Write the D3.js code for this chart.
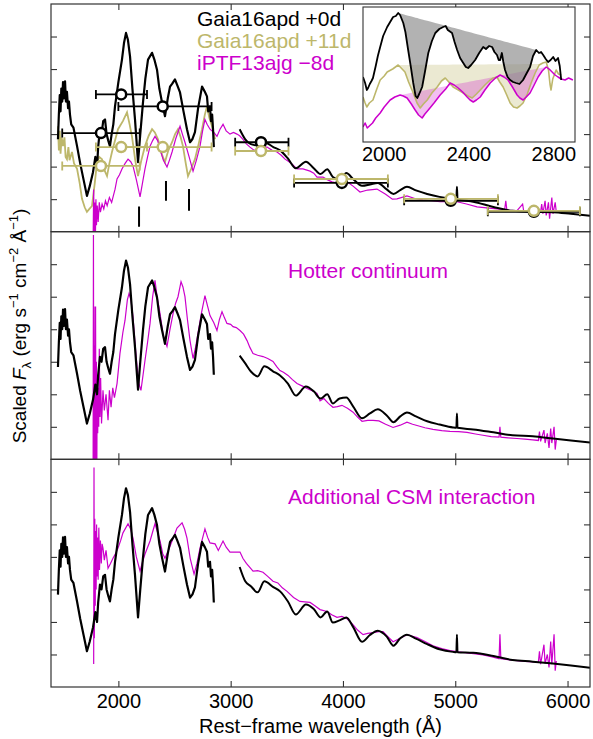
<!DOCTYPE html>
<html>
<head>
<meta charset="utf-8">
<script src="https://cdn.jsdelivr.net/npm/d3@7"></script>
<style>
  body { margin: 0; background: #fff; }
  svg { font-family: "Liberation Sans", Arial, sans-serif; }
</style>
</head>
<body>
<div id="chart"></div>
<script>
// ---- data (flux in arbitrary scaled units, wavelength in Angstrom) ----

// Gaia16apd +0d, UV part (same in all three panels)
var blackUV = [[1462,2.84],[1470,3.6],[1478,4.2],[1485,3.7],[1492,4.4],[1500,4.0],[1507,4.6],[1515,4.1],[1525,4.62],[1533,4.0],[1542,4.3],[1552,3.8],[1560,4.0],[1569,3.6],[1580,3.3],[1600,3.2],[1632,2.63],[1660,2.1],[1690,1.6],[1720,1.10],[1745,1.4],[1774,1.83],[1795,2.3],[1810,2.0],[1820,2.6],[1836,3.15],[1850,3.0],[1865,3.4],[1881,3.45],[1895,3.0],[1910,2.8],[1925,2.63],[1940,3.0],[1955,3.3],[1970,3.85],[2000,4.6],[2032,5.29],[2050,5.8],[2068,6.11],[2085,5.9],[2104,5.38],[2125,4.4],[2148,3.45],[2175,2.14],[2195,3.0],[2219,3.97],[2240,4.7],[2264,5.29],[2300,5.50],[2320,5.3],[2344,4.98],[2365,4.4],[2389,3.97],[2415,3.55],[2440,4.1],[2460,4.46],[2480,4.55],[2504,4.68],[2525,4.5],[2549,4.28],[2580,3.7],[2611,3.15],[2638,2.75],[2660,2.85],[2682,3.06],[2710,3.8],[2745,4.46],[2770,4.3],[2789,4.16],[2800,3.7],[2816,3.85],[2825,3.4],[2835,3.6],[2843,3.15],[2850,2.6]];

// Gaia16apd +0d, optical part (scaled differently per panel)
var optWave   = [3080,3130,3180,3240,3300,3380,3440,3510,3580,3670,3740,3800,3860,3910,3970,4030,4090,4170,4240,4310,4390,4450,4510,4570,4650,4750,4860,4980,5010,5015,5020,5160,5340,5510,5690,5870,6030,6200];
var blackOpt1 = [3.15,2.84,2.69,2.65,2.75,2.60,2.50,2.25,1.95,2.15,1.95,1.77,1.92,1.68,1.60,1.80,1.62,1.41,1.45,1.50,1.30,1.16,1.28,1.38,1.27,1.16,1.07,1.01,1.00,1.38,1.00,0.92,0.76,0.64,0.61,0.60,0.55,0.49];
var blackOpt2 = [3.19,2.95,2.70,2.55,2.86,2.70,2.58,2.33,1.96,2.24,2.09,1.87,2.00,1.72,1.87,1.90,1.63,1.26,1.41,1.54,1.35,1.14,1.32,1.44,1.32,1.17,1.07,0.98,0.97,1.41,0.97,0.92,0.83,0.74,0.71,0.64,0.58,0.52];
var blackOpt3 = [3.69,3.25,3.10,2.91,3.25,3.07,2.94,2.63,2.23,2.54,2.40,2.14,2.32,1.98,2.05,2.14,1.85,1.39,1.60,1.73,1.55,1.27,1.50,1.61,1.49,1.32,1.16,1.08,1.07,1.61,1.07,1.05,0.95,0.83,0.78,0.72,0.66,0.59];

// Gaia16apd +11d (top panel only)
var olive = [[1462,3.24],[1470,2.5],[1478,3.1],[1485,2.4],[1495,2.9],[1507,2.63],[1520,2.9],[1530,2.3],[1542,2.23],[1555,2.6],[1565,2.2],[1587,2.45],[1605,2.1],[1632,1.93],[1655,1.5],[1676,1.01],[1700,0.75],[1720,0.61],[1742,0.7],[1765,0.79],[1790,1.5],[1810,2.14],[1830,2.3],[1854,2.23],[1875,1.9],[1899,1.71],[1920,2.1],[1943,2.45],[1970,2.8],[1997,3.15],[2040,3.4],[2077,3.67],[2100,3.3],[2121,2.93],[2150,2.2],[2175,1.71],[2205,2.2],[2237,2.63],[2270,2.95],[2300,3.15],[2325,3.05],[2353,2.84],[2385,2.4],[2415,2.14],[2445,2.5],[2478,2.75],[2505,3.0],[2531,3.15],[2555,2.9],[2575,2.63],[2600,2.1],[2620,1.71],[2650,1.95],[2682,2.23],[2715,2.7],[2745,3.15],[2770,3.6],[2789,3.85],[2810,3.5],[2834,3.24],[2850,3.0],[2861,2.84]];

// iPTF13ajg -8d, one version per panel
var magenta1 = [[1775,-0.3],[1780,1.3],[1785,-0.2],[1790,0.9],[1795,-0.3],[1800,1.0],[1805,0.2],[1812,0.8],[1820,0.3],[1830,0.9],[1840,0.6],[1855,0.85],[1870,0.7],[1885,0.95],[1900,0.8],[1920,1.05],[1940,0.9],[1955,1.1],[1970,1.3],[1988,1.62],[2010,1.75],[2032,1.93],[2060,2.1],[2086,2.23],[2110,2.15],[2130,2.02],[2160,1.6],[2193,1.07],[2215,1.5],[2237,1.93],[2260,2.3],[2282,2.63],[2305,2.8],[2326,2.93],[2350,2.8],[2371,2.54],[2400,2.2],[2433,1.99],[2455,2.2],[2478,2.45],[2510,2.85],[2549,3.24],[2570,3.0],[2593,2.75],[2630,2.3],[2665,1.86],[2695,2.2],[2727,2.63],[2750,3.1],[2771,3.45],[2790,3.3],[2816,3.15],[2850,3.05],[2878,2.93],[2905,3.15],[2932,3.30],[2960,3.1],[2994,3.0],[3025,3.05],[3056,3.0],[3080,2.95],[3110,2.84],[3140,2.7],[3172,2.60],[3210,2.5],[3243,2.54],[3280,2.6],[3324,2.60],[3370,2.5],[3413,2.45],[3450,2.35],[3484,2.23],[3520,2.15],[3546,2.08],[3591,1.93],[3644,1.93],[3707,1.86],[3740,1.8],[3769,1.68],[3822,1.68],[3860,1.6],[3902,1.53],[3974,1.47],[4030,1.55],[4090,1.4],[4152,1.22],[4220,1.28],[4303,1.31],[4380,1.15],[4440,1.0],[4481,1.01],[4570,1.10],[4640,1.02],[4713,0.98],[4790,0.95],[4864,0.92],[4940,0.93],[5016,0.92],[5100,0.85],[5194,0.76],[5280,0.73],[5372,0.70],[5440,0.68],[5450,0.95],[5460,0.66],[5550,0.65],[5600,0.85],[5610,0.62],[5700,0.62],[5760,0.60],[5770,0.85],[5780,0.55],[5800,0.95],[5810,0.5],[5830,0.9],[5840,0.4],[5860,1.05],[5870,0.55],[5890,0.9],[5900,0.6]];

var magenta2 = [[1775,-0.3],[1778,6.9],[1781,-0.3],[1784,4.7],[1787,-0.3],[1790,3.5],[1793,-0.3],[1797,4.7],[1800,-0.3],[1804,3.0],[1808,-0.3],[1812,2.6],[1816,0.8],[1820,2.2],[1825,1.0],[1830,3.4],[1836,1.3],[1842,2.5],[1850,1.1],[1863,2.12],[1875,1.5],[1890,2.0],[1908,1.20],[1920,2.12],[1935,1.6],[1950,2.2],[1965,1.9],[1988,2.33],[2014,3.25],[2040,3.9],[2059,4.27],[2080,4.9],[2095,5.10],[2112,4.9],[2130,4.39],[2150,3.5],[2166,2.86],[2185,2.3],[2201,2.12],[2220,2.6],[2237,3.04],[2260,3.6],[2282,4.18],[2305,5.0],[2326,5.50],[2345,5.0],[2371,4.48],[2400,3.8],[2433,3.47],[2460,4.0],[2487,4.48],[2510,4.8],[2531,5.00],[2558,5.46],[2575,5.3],[2593,5.00],[2615,4.3],[2638,3.65],[2665,3.10],[2685,3.4],[2709,3.87],[2740,4.5],[2771,5.03],[2795,4.7],[2816,4.42],[2850,4.2],[2878,3.96],[2900,4.3],[2923,4.54],[2945,4.35],[2967,4.18],[3000,4.15],[3021,4.08],[3050,4.05],[3083,3.96],[3115,3.85],[3146,3.65],[3170,3.45],[3199,3.25],[3240,3.2],[3288,3.16],[3330,3.1],[3377,3.01],[3410,2.85],[3439,2.73],[3470,2.68],[3511,2.58],[3550,2.45],[3591,2.33],[3640,2.25],[3680,2.18],[3720,2.12],[3769,2.03],[3796,1.80],[3830,1.87],[3870,1.72],[3911,1.60],[3950,1.62],[3991,1.66],[4040,1.57],[4090,1.45],[4130,1.3],[4170,1.17],[4220,1.2],[4268,1.20],[4320,1.18],[4380,1.08],[4446,0.98],[4510,1.05],[4570,1.14],[4620,1.08],[4660,1.04],[4730,0.97],[4802,0.92],[4880,0.88],[4953,0.86],[5030,0.85],[5105,0.83],[5180,0.78],[5247,0.74],[5320,0.70],[5390,0.68],[5398,1.0],[5406,0.68],[5470,0.66],[5550,0.64],[5620,0.62],[5690,0.6],[5740,0.58],[5750,0.85],[5760,0.55],[5790,0.9],[5800,0.5],[5820,0.8],[5835,0.35],[5850,0.95],[5860,0.5],[5880,1.0],[5890,0.3],[5900,0.6]];

var magenta3 = [[1780,0.71],[1783,6.75],[1786,1.5],[1790,5.17],[1794,2.5],[1798,4.8],[1802,3.0],[1806,5.0],[1810,3.4],[1815,4.6],[1820,3.3],[1826,4.9],[1832,3.6],[1840,4.5],[1848,3.8],[1855,4.4],[1863,4.27],[1875,3.9],[1890,4.2],[1908,3.65],[1930,3.8],[1952,3.96],[1975,4.1],[1997,4.27],[2020,4.5],[2041,4.74],[2086,5.02],[2110,4.85],[2130,4.58],[2160,4.0],[2193,3.56],[2215,3.85],[2237,4.09],[2282,4.49],[2326,5.02],[2350,4.75],[2371,4.49],[2395,4.1],[2415,3.96],[2445,4.2],[2478,4.49],[2522,4.89],[2567,5.05],[2590,4.85],[2611,4.58],[2640,3.95],[2674,3.47],[2700,3.8],[2727,4.27],[2771,4.86],[2795,4.6],[2816,4.43],[2861,4.40],[2890,4.2],[2932,4.49],[2960,4.3],[2994,4.15],[3040,4.15],[3083,4.15],[3110,3.95],[3140,3.8],[3199,3.56],[3240,3.58],[3288,3.53],[3330,3.4],[3377,3.25],[3420,3.2],[3460,3.05],[3502,2.94],[3560,2.75],[3617,2.63],[3660,2.62],[3707,2.60],[3750,2.5],[3796,2.38],[3858,2.32],[3900,2.22],[3947,2.14],[3990,2.17],[4036,2.1],[4089,1.92],[4130,1.75],[4179,1.61],[4220,1.65],[4268,1.67],[4320,1.7],[4357,1.70],[4400,1.55],[4446,1.39],[4510,1.5],[4570,1.61],[4620,1.56],[4660,1.52],[4730,1.4],[4802,1.27],[4880,1.18],[4953,1.12],[5030,1.08],[5105,1.05],[5180,1.02],[5247,0.99],[5320,0.93],[5390,0.87],[5398,1.62],[5406,0.87],[5470,0.84],[5550,0.81],[5620,0.79],[5693,0.77],[5740,0.76],[5750,1.1],[5760,0.7],[5790,1.3],[5800,0.72],[5820,1.0],[5835,0.6],[5850,1.4],[5860,0.7],[5880,1.62],[5890,0.5],[5900,0.8]];

// photometry (top panel): central wavelength, band edges, flux
var photWave  = [1845, 2025, 2395, 3270, 3990, 4960, 5700];
var photLo    = [1500, 1800, 2000, 3040, 3565, 4545, 5290];
var photHi    = [2190, 2255, 2830, 3515, 4400, 5380, 6110];
var photBlack = [3.03, 4.22, 3.85, 2.75, 1.50, 0.95, 0.61];
var photOlive = [2.02, 2.60, 2.60, 2.48, 1.62, 1.01, 0.64];

// absorption line markers (top panel)
var markWave = [2184, 2424, 2629];
var markTop  = [0.77, 1.56, 1.31];
var markBot  = [0.15, 0.95, 0.64];

// inset spectra and pseudo-continua
var insetBlack = [[1900,6.5],[1910,5.9],[1918,5.2],[1924,5.4],[1932,5.8],[1940,6.1],[1947,6.4],[1960,7.6],[1970,8.6],[1981,9.5],[1995,10.6],[2014,11.5],[2028,12.0],[2042,12.5],[2055,12.6],[2066,12.9],[2075,12.7],[2090,11.9],[2100,11.0],[2113,9.2],[2125,7.6],[2137,5.9],[2148,4.6],[2156,4.4],[2165,4.8],[2179,5.5],[2192,7.0],[2208,8.9],[2225,10.1],[2241,10.9],[2260,11.3],[2278,11.5],[2290,11.6],[2300,11.2],[2320,10.9],[2332,10.0],[2344,9.2],[2358,8.4],[2373,7.9],[2385,7.5],[2396,7.4],[2410,7.7],[2429,8.2],[2448,8.9],[2467,9.5],[2480,9.3],[2495,9.6],[2509,9.5],[2520,9.0],[2532,8.7],[2540,8.2],[2547,8.2],[2555,8.9],[2562,8.0],[2570,7.2],[2582,6.5],[2594,6.2],[2608,6.0],[2622,5.9],[2638,5.8],[2655,6.2],[2670,6.8],[2688,7.5],[2702,8.6],[2717,9.2],[2730,8.9],[2740,9.0],[2750,8.7],[2762,8.3],[2773,8.0],[2785,8.2],[2797,8.5],[2808,8.1],[2820,8.4],[2828,7.6],[2835,6.2]];
var insetOlive = [[1900,4.5],[1910,3.9],[1918,3.5],[1930,3.9],[1947,4.2],[1965,5.3],[1981,6.2],[2000,6.6],[2014,7.0],[2040,7.3],[2066,7.7],[2080,7.4],[2098,7.0],[2115,6.0],[2137,4.9],[2155,3.9],[2170,3.4],[2185,3.8],[2203,4.2],[2225,4.9],[2250,5.5],[2270,6.1],[2288,6.4],[2305,6.0],[2325,5.5],[2350,5.2],[2373,4.9],[2395,4.6],[2415,4.4],[2435,4.8],[2453,5.2],[2475,5.7],[2500,6.2],[2515,6.4],[2532,6.5],[2545,6.0],[2561,5.5],[2578,4.7],[2594,3.9],[2610,3.5],[2627,3.4],[2640,3.6],[2655,3.9],[2675,4.8],[2693,5.9],[2712,6.9],[2731,7.7],[2748,7.9],[2764,8.0],[2775,7.2],[2782,5.8],[2787,5.2],[2795,6.3],[2811,7.2],[2822,6.8],[2835,6.7]];
var insetMag = [[1900,1.5],[1910,1.9],[1920,1.4],[1930,1.6],[1945,1.9],[1960,2.4],[1981,2.9],[2000,3.5],[2028,4.2],[2050,4.5],[2075,4.7],[2090,4.6],[2108,4.4],[2128,3.8],[2146,3.2],[2162,2.7],[2179,2.4],[2192,2.8],[2208,3.2],[2235,3.9],[2264,4.7],[2290,5.3],[2311,5.9],[2330,5.7],[2349,5.4],[2370,5.0],[2391,4.5],[2405,4.2],[2420,4.0],[2435,4.2],[2453,4.5],[2475,5.2],[2500,5.9],[2525,6.4],[2547,6.7],[2565,6.5],[2584,6.2],[2605,5.5],[2627,4.7],[2640,4.4],[2655,4.2],[2670,4.5],[2688,4.9],[2705,5.6],[2726,6.5],[2745,7.1],[2764,7.5],[2778,7.3],[2792,7.0],[2806,6.7],[2820,6.5],[2835,6.3],[2853,6.2],[2870,6.4],[2890,6.2]];
var blackCont = [[2066,12.9],[2717,9.2]];
var oliveCont = [[2066,7.7],[2731,7.8]];
var magCont   = [[2075,4.7],[2764,7.5]];

var xTicks = [2000, 3000, 4000, 5000, 6000];
var yTicks = [1, 2, 3, 4, 5, 6];
var insetTicks = [2000, 2400, 2800];
var legendNames = ["Gaia16apd +0d", "Gaia16apd +11d", "iPTF13ajg \u22128d"];
var panelNotes = ["", "Hotter continuum", "Additional CSM interaction"];

var BLACK = "#000", OLIVE = "#bdb76b", MAG = "#cc00cc", FRAME = "#333";

// ---- layout ----
var margin = {top: 4, right: 3, bottom: 52, left: 51},
    width = 593 - margin.left - margin.right,
    height = 739 - margin.top - margin.bottom;
var panelH = height / 3;

var svg = d3.select("#chart")
  .append("svg")
    .attr("width", 593)
    .attr("height", 739)
  .append("g")
    .attr("transform", "translate(" + margin.left + "," + margin.top + ")");

var x = d3.scaleLinear().domain([1400, 6200]).range([0, width]);
var y = d3.scaleLinear().domain([0, 7]).range([panelH, 0]);

var line = d3.line().x(function(d) { return x(d[0]); }).y(function(d) { return y(d[1]); });
var smooth = d3.line().curve(d3.curveMonotoneX)
  .x(function(d) { return x(d[0]); }).y(function(d) { return y(d[1]); });

svg.append("defs").append("clipPath").attr("id", "clip")
  .append("rect").attr("width", width).attr("height", panelH);

var mags = [magenta1, magenta2, magenta3];
var opts = [blackOpt1, blackOpt2, blackOpt3];

for (var i = 0; i < 3; i++) {
  var p = svg.append("g").attr("transform", "translate(0," + (i * panelH) + ")");

  // inward ticks on all four sides
  p.append("g").attr("class", "ax").call(d3.axisLeft(y).tickValues(yTicks).tickSize(-6).tickFormat(""));
  p.append("g").attr("class", "ax").attr("transform", "translate(" + width + ",0)")
    .call(d3.axisRight(y).tickValues(yTicks).tickSize(-6).tickFormat(""));
  p.append("g").attr("class", "ax").call(d3.axisTop(x).tickValues(xTicks).tickSize(-6).tickFormat(""));
  var bx = p.append("g").attr("class", "ax").attr("transform", "translate(0," + panelH + ")")
    .call(d3.axisBottom(x).tickValues(xTicks).tickSize(-6).tickPadding(7)
      .tickFormat(i == 2 ? d3.format("d") : ""));

  var plot = p.append("g").attr("clip-path", "url(#clip)");

  if (i == 0) {
    plot.append("path").datum(olive).attr("d", line)
      .attr("fill", "none").attr("stroke", OLIVE).attr("stroke-width", 1.8);
  }
  plot.append("path").datum(mags[i]).attr("d", line)
    .attr("fill", "none").attr("stroke", MAG).attr("stroke-width", 1.2);
  plot.append("path").datum(blackUV).attr("d", line)
    .attr("fill", "none").attr("stroke", BLACK).attr("stroke-width", 2.2)
    .attr("stroke-linejoin", "round");
  plot.append("path").datum(d3.zip(optWave, opts[i])).attr("d", smooth)
    .attr("fill", "none").attr("stroke", BLACK).attr("stroke-width", 2)
    .attr("stroke-linejoin", "round");

  if (i == 0) {
    // line markers
    plot.selectAll(".mark").data(markWave).enter().append("line")
      .attr("x1", function(d) { return x(d); }).attr("x2", function(d) { return x(d); })
      .attr("y1", function(d, k) { return y(markTop[k]); })
      .attr("y2", function(d, k) { return y(markBot[k]); })
      .attr("stroke", BLACK).attr("stroke-width", 2);

    // photometry: black then olive
    [[photBlack, BLACK], [photOlive, OLIVE]].forEach(function(s) {
      var vals = s[0], col = s[1];
      var g = plot.append("g");
      g.selectAll(".bar").data(photWave).enter().append("line")
        .attr("x1", function(d, k) { return x(photLo[k]); })
        .attr("x2", function(d, k) { return x(photHi[k]); })
        .attr("y1", function(d, k) { return y(vals[k]); })
        .attr("y2", function(d, k) { return y(vals[k]); })
        .attr("stroke", col).attr("stroke-width", 1.8);
      [photLo, photHi].forEach(function(edge) {
        g.selectAll(".cap").data(photWave).enter().append("line")
          .attr("x1", function(d, k) { return x(edge[k]); })
          .attr("x2", function(d, k) { return x(edge[k]); })
          .attr("y1", function(d, k) { return y(vals[k]) - 4.5; })
          .attr("y2", function(d, k) { return y(vals[k]) + 4.5; })
          .attr("stroke", col).attr("stroke-width", 1.8);
      });
      g.selectAll("circle").data(photWave).enter().append("circle")
        .attr("cx", function(d) { return x(d); })
        .attr("cy", function(d, k) { return y(vals[k]); })
        .attr("r", 5)
        .attr("fill", "#fff").attr("stroke", col).attr("stroke-width", 2.5);
    });

    // legend
    var cols = [BLACK, OLIVE, MAG];
    p.selectAll(".leg").data(legendNames).enter().append("text")
      .attr("x", 146).attr("y", function(d, k) { return 22 + k * 22; })
      .attr("fill", function(d, k) { return cols[k]; })
      .style("font-size", "21px")
      .text(function(d) { return d; });
  } else {
    p.append("text").attr("x", 237).attr("y", i == 1 ? 46 : 45)
      .attr("fill", MAG).style("font-size", "21px").text(panelNotes[i]);
  }

  p.append("rect").attr("width", width).attr("height", panelH)
    .attr("fill", "none").attr("stroke", FRAME).attr("stroke-width", 1.2);
}

svg.selectAll(".ax .domain").remove();
svg.selectAll(".ax line").attr("stroke", FRAME).attr("stroke-width", 1.1);
svg.selectAll(".ax text").style("font-size", "20px").attr("fill", "#000")
  .style("font-family", "Liberation Sans, Arial, sans-serif");

// ---- inset ----
var ix = d3.scaleLinear().domain([1900, 2900]).range([312, 524]);
var iy = d3.scaleLinear().domain([0, 13.5]).range([138, 3]);
var inset = svg.append("g");
inset.append("rect").attr("x", 312).attr("y", 3).attr("width", 212).attr("height", 135)
  .attr("fill", "#fff");
svg.append("defs").append("clipPath").attr("id", "iclip")
  .append("rect").attr("x", 312).attr("y", 3).attr("width", 212).attr("height", 135);
var ig = inset.append("g").attr("clip-path", "url(#iclip)");

function fillBetween(spec, cont, col, op) {
  var c = d3.scaleLinear().domain([cont[0][0], cont[1][0]]).range([cont[0][1], cont[1][1]]);
  var pts = spec.filter(function(d) { return d[0] >= cont[0][0] && d[0] <= cont[1][0]; });
  var area = d3.area()
    .x(function(d) { return ix(d[0]); })
    .y0(function(d) { return iy(c(d[0])); })
    .y1(function(d) { return iy(d[1]); });
  ig.append("path").datum(pts).attr("d", area).attr("fill", col).attr("fill-opacity", op).attr("stroke", "none");
}
fillBetween(insetOlive, oliveCont, OLIVE, 0.3);
fillBetween(insetMag, magCont, MAG, 0.25);
fillBetween(insetBlack, blackCont, "#888", 0.65);

var iline = d3.line().x(function(d) { return ix(d[0]); }).y(function(d) { return iy(d[1]); });
[[insetOlive, OLIVE, 1.6], [insetMag, MAG, 1.5], [insetBlack, BLACK, 1.8]].forEach(function(s) {
  ig.append("path").datum(s[0]).attr("d", iline)
    .attr("fill", "none").attr("stroke", s[1]).attr("stroke-width", s[2]).attr("stroke-linejoin", "round");
});
inset.append("rect").attr("x", 312).attr("y", 3).attr("width", 212).attr("height", 135)
  .attr("fill", "none").attr("stroke", FRAME).attr("stroke-width", 1.1);
inset.selectAll(".it").data(insetTicks).enter().append("text")
  .attr("x", function(d) { return ix(d); }).attr("y", 157)
  .attr("text-anchor", "middle").style("font-size", "20px")
  .text(function(d) { return d; });

// ---- axis titles ----
svg.append("text").attr("x", width / 2).attr("y", 729)
  .attr("text-anchor", "middle").style("font-size", "20px")
  .text("Rest\u2212frame wavelength (\u00c5)");

var yl = svg.append("text")
  .attr("transform", "translate(-25," + (326 - margin.top) + ") rotate(-90)")
  .attr("text-anchor", "middle").style("font-size", "19px");
yl.append("tspan").text("Scaled ");
yl.append("tspan").style("font-style", "italic").text("F");
yl.append("tspan").attr("dy", 5).style("font-size", "13px").text("\u03bb");
yl.append("tspan").attr("dy", -5).text(" (erg s");
yl.append("tspan").attr("dy", -8).style("font-size", "13px").text("\u22121");
yl.append("tspan").attr("dy", 8).text(" cm");
yl.append("tspan").attr("dy", -8).style("font-size", "13px").text("\u22122");
yl.append("tspan").attr("dy", 8).text(" \u00c5");
yl.append("tspan").attr("dy", -8).style("font-size", "13px").text("\u22121");
yl.append("tspan").attr("dy", 8).text(")");
</script>
</body>
</html>
